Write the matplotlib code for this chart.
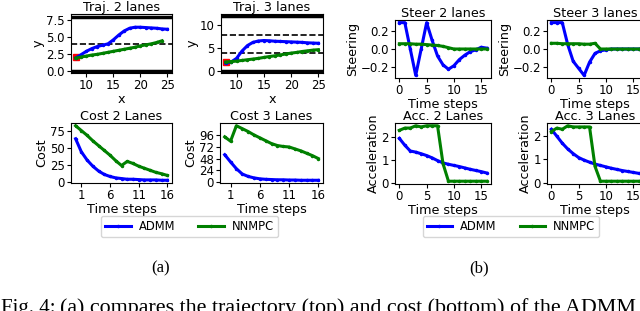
import matplotlib
matplotlib.use("Agg")
import matplotlib.pyplot as plt
from matplotlib.lines import Line2D


W, H = 640, 311

# trajectories (x, y)
TRAJ2_X_ADMM = [8, 9, 10, 11, 12, 13, 14, 15, 16, 17, 18, 19, 20, 21, 22, 23, 24, 25]
TRAJ2_Y_ADMM = [1.9, 2.4, 2.9, 3.3, 3.6, 3.8, 4.0, 4.6, 5.3, 5.9, 6.3, 6.45, 6.45, 6.4, 6.35, 6.3, 6.2, 6.15]
TRAJ2_X_NNMPC = [8, 9, 10, 11, 12, 13, 14, 15, 16, 17, 18, 19, 20, 21, 22, 23, 24]
TRAJ2_Y_NNMPC = [1.9, 2.05, 2.2, 2.35, 2.45, 2.6, 2.75, 2.9, 3.05, 3.2, 3.35, 3.5, 3.7, 3.85, 4.0, 4.2, 4.45]

TRAJ3_X_ADMM = [8, 9, 10, 11, 12, 13, 14, 15, 16, 17, 18, 19, 20, 21, 22, 23, 24, 25]
TRAJ3_Y_ADMM = [1.8, 2.0, 2.8, 4.4, 5.6, 6.3, 6.6, 6.7, 6.65, 6.55, 6.5, 6.45, 6.4, 6.35, 6.3, 6.2, 6.15, 6.1]
TRAJ3_X_NNMPC = [8, 9, 10, 11, 12, 13, 14, 15, 16, 17, 18, 19, 20, 21, 22, 23, 24, 25]
TRAJ3_Y_NNMPC = [2.0, 2.1, 2.2, 2.35, 2.5, 2.65, 2.8, 3.0, 3.2, 3.35, 3.55, 3.75, 3.95, 4.1, 4.3, 4.45, 4.6, 4.7]

START_XY = (8, 2.0)
LANES2_EDGES = [0, 8]
LANES2_DASHES = [4]
LANES3_EDGES = [0, 12]
LANES3_DASHES = [4, 8]

# per time step values
STEPS = list(range(17))
COST2_ADMM = [63, 44, 32, 23, 16, 11, 8, 6, 5, 4, 4, 3.5, 3, 3, 3, 2.5, 2.5]
COST2_NNMPC = [82, 75, 68, 60, 53, 46, 39, 31, 24, 30, 27, 23, 20, 17, 14, 12, 9.5]
COST3_ADMM = [56, 41, 27, 16, 11, 8, 6, 5, 4.5, 4, 4, 3.5, 3.5, 3, 3, 3, 3]
COST3_NNMPC = [93, 84, 116, 110, 104, 97, 91, 85, 79, 75, 73, 72, 68, 64, 59, 54, 48]

STEER2_ADMM = [0.3, 0.3, 0.0, -0.3, 0.0, 0.3, 0.1, -0.08, -0.18, -0.23, -0.19, -0.12, -0.07, -0.03, -0.01, 0.02, 0.01]
STEER2_NNMPC = [0.06, 0.06, 0.06, 0.055, 0.055, 0.05, 0.045, 0.04, 0.03, 0.015, 0.0, 0.0, 0.0, 0.0, 0.0, 0.0, 0.0]
STEER3_ADMM = [0.3, 0.3, 0.3, 0.05, -0.14, -0.22, -0.3, -0.15, -0.05, -0.02, -0.01, 0.0, 0.0, 0.0, 0.0, 0.0, 0.0]
STEER3_NNMPC = [0.065, 0.065, 0.06, 0.06, 0.06, 0.06, 0.055, 0.055, 0.065, 0.0, 0.0, 0.0, 0.0, 0.0, 0.0, 0.0, 0.0]

ACC2_ADMM = [1.95, 1.65, 1.4, 1.35, 1.28, 1.2, 1.1, 0.98, 0.88, 0.82, 0.77, 0.72, 0.66, 0.6, 0.55, 0.5, 0.44]
ACC2_NNMPC = [2.3, 2.4, 2.4, 2.5, 2.45, 2.5, 2.5, 2.5, 0.85, 0.08, 0.08, 0.08, 0.08, 0.08, 0.08, 0.08, 0.08]
ACC3_ADMM = [2.3, 2.0, 1.7, 1.45, 1.25, 1.08, 0.97, 0.88, 0.8, 0.74, 0.68, 0.62, 0.57, 0.52, 0.48, 0.44, 0.4]
ACC3_NNMPC = [2.2, 2.35, 2.3, 2.45, 2.4, 2.4, 2.4, 2.4, 0.7, 0.06, 0.06, 0.06, 0.06, 0.06, 0.06, 0.06, 0.06]

LABELS = ["ADMM", "NNMPC"]
COLORS = ["b", "g"]

FS_TEXT = 9.2   # titles and axis labels
FS_TICK = 8.5
FS_LEGEND = 8.3
LINE = dict(linewidth=2.2, marker=".", markersize=3)
SERIF = "Liberation Serif"


def px_axes(fig, left, top, right, bottom):
    return fig.add_axes([left / W, 1 - bottom / H, (right - left) / W, (bottom - top) / H])


def style(ax, title, xlabel, ylabel):
    ax.set_title(title, fontsize=FS_TEXT, pad=2.5)
    ax.set_xlabel(xlabel, fontsize=FS_TEXT, labelpad=0.5)
    ax.set_ylabel(ylabel, fontsize=FS_TEXT, labelpad=1)
    ax.tick_params(labelsize=FS_TICK, length=3, pad=1.5)


def traj_panel(ax, admm, nnmpc, edges, dashes, title, yticks, ylim):
    ax.plot(*START_XY, "s", color="red", markersize=4, zorder=1)
    for y in edges:
        ax.axhline(y, color="black", linewidth=2.5)
    for y in dashes:
        ax.axhline(y, color="black", linestyle="--", linewidth=1.2)
    ax.plot(admm[0], admm[1], color=COLORS[0], zorder=3, **LINE)
    ax.plot(nnmpc[0], nnmpc[1], color=COLORS[1], zorder=3, **LINE)
    ax.set_ylim(*ylim)
    ax.set_yticks(yticks)
    ax.set_xticks([10, 15, 20, 25])
    style(ax, title, "x", "y")


def step_panel(ax, admm, nnmpc, title, ylabel, xticks, yticks):
    ax.plot(STEPS, admm, color=COLORS[0], **LINE)
    ax.plot(STEPS, nnmpc, color=COLORS[1], **LINE)
    ax.set_xticks(xticks)
    ax.set_yticks(yticks)
    style(ax, title, "Time steps", ylabel)


def main():
    fig = plt.figure(figsize=(W / 100, H / 100), dpi=100)

    ax = px_axes(fig, 71, 14, 172, 73)
    traj_panel(ax, (TRAJ2_X_ADMM, TRAJ2_Y_ADMM), (TRAJ2_X_NNMPC, TRAJ2_Y_NNMPC),
               LANES2_EDGES, LANES2_DASHES, "Traj. 2 lanes", [0, 2.5, 5, 7.5], (-0.3, 8.4))
    ax = px_axes(fig, 221, 14, 323, 73)
    traj_panel(ax, (TRAJ3_X_ADMM, TRAJ3_Y_ADMM), (TRAJ3_X_NNMPC, TRAJ3_Y_NNMPC),
               LANES3_EDGES, LANES3_DASHES, "Traj. 3 lanes", [0, 5, 10], (-0.4, 12.5))

    ax = px_axes(fig, 71, 123, 172, 183)
    step_panel(ax, COST2_ADMM, COST2_NNMPC, "Cost 2 Lanes", "Cost", [1, 6, 11, 16], [0, 25, 50, 75])
    ax = px_axes(fig, 220, 123, 323, 183)
    step_panel(ax, COST3_ADMM, COST3_NNMPC, "Cost 3 Lanes", "Cost", [1, 6, 11, 16], [0, 24, 48, 72, 96])

    ax = px_axes(fig, 395, 20, 491, 78)
    step_panel(ax, STEER2_ADMM, STEER2_NNMPC, "Steer 2 lanes", "Steering", [0, 5, 10, 15], [-0.2, 0.0, 0.2])
    ax = px_axes(fig, 547, 20, 643, 78)
    step_panel(ax, STEER3_ADMM, STEER3_NNMPC, "Steer 3 lanes", "Steering", [0, 5, 10, 15], [-0.2, 0.0, 0.2])

    ax = px_axes(fig, 395, 123, 491, 184)
    step_panel(ax, ACC2_ADMM, ACC2_NNMPC, "Acc. 2 Lanes", "Acceleration", [0, 5, 10, 15], [0, 1, 2])
    ax = px_axes(fig, 547, 123, 643, 184)
    step_panel(ax, ACC3_ADMM, ACC3_NNMPC, "Acc. 3 Lanes", "Acceleration", [0, 5, 10, 15], [0, 1, 2])

    handles = [Line2D([], [], color=c, **LINE) for c in COLORS]
    for cx in (189.5, 511):
        fig.legend(handles, LABELS, loc="center", bbox_to_anchor=(cx / W, 1 - 226.5 / H),
                   ncol=2, fontsize=FS_LEGEND, handlelength=2.2, columnspacing=2.0,
                   borderpad=0.35, handletextpad=0.7)

    fig.text(161 / W, 1 - 268 / H, "(a)", family=SERIF, fontsize=12, ha="center", va="center")
    fig.text(479 / W, 1 - 268 / H, "(b)", family=SERIF, fontsize=12, ha="center", va="center")

    # caption runs off the bottom edge, as in the cropped source
    fig.text(1 / W, -2 / H, "Fig. 4:", family=SERIF, fontsize=15, va="baseline")
    fig.text(60 / W, -2 / H, "(a) compares the trajectory (top) and cost (bottom) of the ADMM",
             family=SERIF, fontsize=15.8, va="baseline")

    fig.savefig("out.png", dpi=100)
    plt.close(fig)


if __name__ == "__main__":
    main()
